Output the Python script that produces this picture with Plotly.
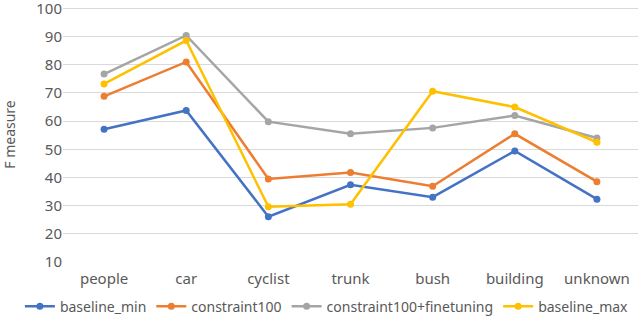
import plotly.graph_objects as go

categories = ["people", "car", "cyclist", "trunk", "bush", "building", "unknown"]
baseline_min = [57.1, 63.8, 26.1, 37.4, 33.0, 49.4, 32.3]
constraint100 = [68.8, 81.0, 39.5, 41.8, 36.9, 55.5, 38.5]
constraint100_ft = [76.7, 90.4, 59.8, 55.5, 57.6, 62.0, 54.0]
baseline_max = [73.2, 88.6, 29.6, 30.5, 70.6, 65.0, 52.5]
y_ticks = [10, 20, 30, 40, 50, 60, 70, 80, 90, 100]

series = [
    ("baseline_min", baseline_min, "#4472C4"),
    ("constraint100", constraint100, "#ED7D31"),
    ("constraint100+finetuning", constraint100_ft, "#A5A5A5"),
    ("baseline_max", baseline_max, "#FFC000"),
]

fig = go.Figure()
for name, vals, color in series:
    fig.add_trace(go.Scatter(
        x=categories, y=vals, name=name, mode="lines+markers",
        line=dict(color=color, width=2.5),
        marker=dict(color=color, size=7),
        cliponaxis=False,
    ))

font_family = "Noto Sans, sans-serif"
fig.update_layout(
    width=640, height=316,
    margin=dict(l=63, r=2, t=7, b=54, autoexpand=False),
    paper_bgcolor="white", plot_bgcolor="white",
    font=dict(family=font_family, size=15, color="#595959"),
    showlegend=True,
    legend=dict(orientation="h", x=-0.075, xanchor="left",
                y=-0.175, yanchor="middle",
                font=dict(size=14, color="#595959"), itemwidth=30,
                tracegroupgap=0, bgcolor="rgba(0,0,0,0)"),
    xaxis=dict(type="category", range=[-0.5, 6.5], showgrid=False, showline=False,
               ticks="", automargin=False, ticklabelstandoff=6,
               tickfont=dict(size=15, color="#595959")),
    yaxis=dict(range=[10, 100.5], tickvals=y_ticks, showgrid=True, gridcolor="#D9D9D9",
               gridwidth=1, zeroline=False, showline=False, ticks="", automargin=False,
               ticklabeloverflow="allow",
               tickfont=dict(size=15, color="#595959"),
               title=dict(text="F measure", font=dict(size=14, color="#595959"), standoff=20)),
)

fig.write_html("out.html", config={"displayModeBar": False},
               post_script="document.body.style.margin='0';document.body.style.padding='0';")
